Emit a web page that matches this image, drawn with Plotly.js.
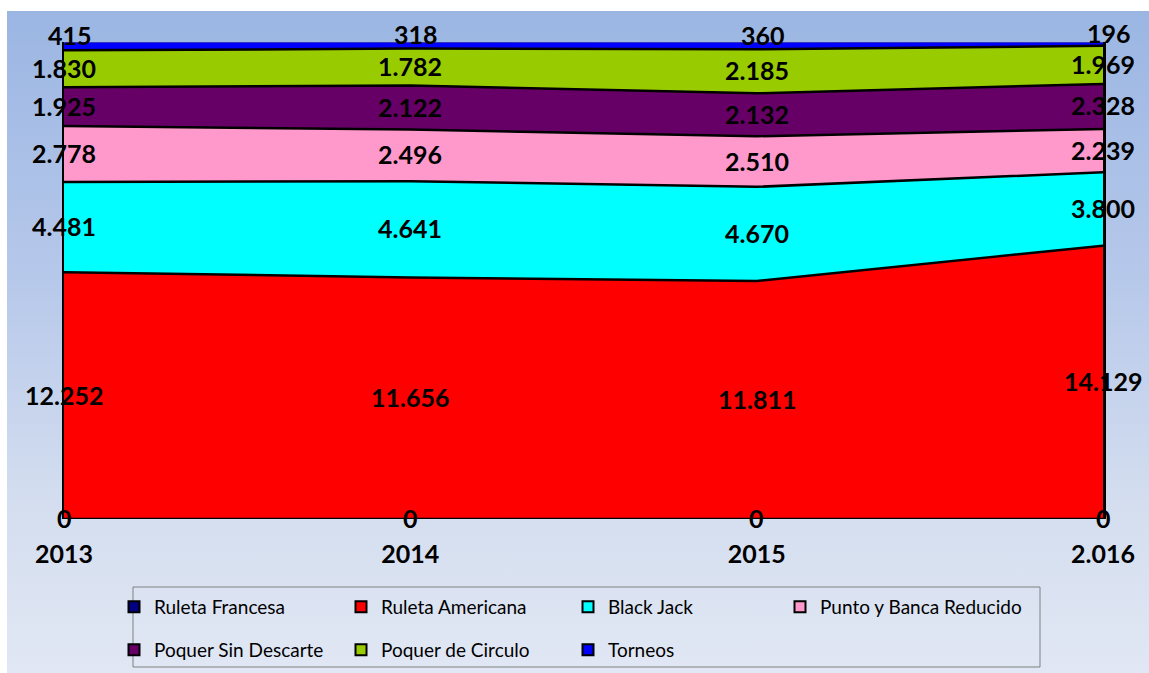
<!DOCTYPE html>
<html>
<head>
<meta charset="utf-8">
<script src="https://cdn.plot.ly/plotly-3.0.1.min.js"></script>
<style>
  html, body { margin:0; padding:0; background:#ffffff; }
  #wrap { position:relative; width:1149px; height:673px; overflow:hidden; }
  #bg { position:absolute; left:7px; top:11px; width:1142px; height:662px;
        background: linear-gradient(to bottom, #9bb6e3 0%, #b6c8ea 40%, #d4deef 75%, #e1e7f4 100%); }
  #chart { position:absolute; left:0; top:0; width:1149px; height:673px; }
</style>
</head>
<body>
<div id="wrap"><div id="bg"></div><div id="chart"></div></div>
<script>
// ---- data ----
const categories = ['2013', '2014', '2015', '2.016'];
const seriesNames = ['Ruleta Francesa', 'Ruleta Americana', 'Black Jack', 'Punto y Banca Reducido',
                     'Poquer Sin Descarte', 'Poquer de Circulo', 'Torneos'];
const ruletaFrancesa   = [0, 0, 0, 0];
const ruletaAmericana  = [12252, 11656, 11811, 14129];
const blackJack        = [4481, 4641, 4670, 3800];
const puntoBanca       = [2778, 2496, 2510, 2239];
const poquerSinDesc    = [1925, 2122, 2132, 2328];
const poquerCirculo    = [1830, 1782, 2185, 1969];
const torneos          = [415, 318, 360, 196];

const seriesValues = [ruletaFrancesa, ruletaAmericana, blackJack, puntoBanca, poquerSinDesc, poquerCirculo, torneos];
const fillColors = ['#000080', '#ff0000', '#00ffff', '#ff99cc', '#660066', '#99cc00', '#0000ff'];
const lineColors = ['#000000', '#000000', '#000000', '#000000', '#000000', '#000000', '#6a6a8a'];
const lineWidths = [2.5, 2.5, 2.5, 2.5, 2.5, 2.5, 1];
const legendGroupOf = ['legend', 'legend', 'legend', 'legend3', 'legend2', 'legend2', 'legend2'];

function fmt(v) {
  return String(v).replace(/\B(?=(\d{3})+(?!\d))/g, '.');
}

const traces = [];
seriesValues.forEach((vals, i) => {
  traces.push({
    type: 'scatter', mode: 'lines', x: categories, y: vals, name: seriesNames[i],
    stackgroup: 'one', groupnorm: 'percent',
    fillcolor: fillColors[i], line: {color: lineColors[i], width: lineWidths[i]},
    showlegend: false, hoverinfo: 'skip'
  });
});
// legend entries
seriesValues.forEach((vals, i) => {
  traces.push({
    type: 'scatter', mode: 'markers', x: [null], y: [null], name: seriesNames[i],
    marker: {symbol: 'square', size: 11, color: fillColors[i], line: {color: '#000', width: 2}},
    showlegend: true, legend: legendGroupOf[i], hoverinfo: 'skip'
  });
});

// labels at middle of each band (percent coordinates)
const annotations = [];
const totals = categories.map((c, j) => seriesValues.reduce((s, arr) => s + arr[j], 0));
categories.forEach((c, j) => {
  let cum = 0;
  seriesValues.forEach((vals, i) => {
    const mid = (cum + vals[j] / 2) / totals[j] * 100;
    cum += vals[j];
    annotations.push({
      x: j, y: mid, xref: 'x', yref: 'y', text: fmt(vals[j]), showarrow: false,
      xshift: (i === 6 ? 6 : 0), yshift: (i === 6 ? 11 : 1),
      font: {family: 'Lato, sans-serif', size: 25, color: '#000', weight: 'bold'}
    });
  });
});

const W = 1039, H = 477, L = 64, T = 42;
function px2x(p) { return (p - L) / W; }
function px2y(p) { return (T + H - p) / H; }

const legendFont = {family: 'Lato, sans-serif', size: 19, color: '#000'};
const legendCommon = {orientation: 'h', xanchor: 'left', yanchor: 'middle', traceorder: 'normal',
           entrywidth: 182, entrywidthmode: 'pixels', bgcolor: 'rgba(0,0,0,0)', borderwidth: 0,
           font: legendFont, itemclick: false};
const layout = {
  width: 1149, height: 673,
  margin: {l: 64, r: 46, t: 42, b: 154, autoexpand: false},
  paper_bgcolor: 'rgba(0,0,0,0)', plot_bgcolor: 'rgba(0,0,0,0)',
  showlegend: true,
  xaxis: {type: 'category', range: [0, 3], showgrid: false, zeroline: false, showline: false,
          ticks: '', ticklabelstandoff: 18, automargin: false,
          tickfont: {family: 'Lato, sans-serif', size: 25, color: '#000', weight: 'bold'}},
  yaxis: {range: [0, 100], showgrid: false, zeroline: false, showticklabels: false, automargin: false,
          showline: true, mirror: true, linecolor: '#000', linewidth: 2.5, ticks: ''},
  legend: Object.assign({x: px2x(114), y: px2y(607)}, legendCommon),
  legend2: Object.assign({x: px2x(114), y: px2y(650)}, legendCommon),
  legend3: Object.assign({x: px2x(780), y: px2y(607)}, legendCommon, {entrywidth: 260}),
  shapes: [{type: 'rect', xref: 'paper', yref: 'paper', x0: px2x(133), x1: px2x(1040),
            y0: px2y(667), y1: px2y(587), line: {color: '#808080', width: 1}, fillcolor: 'rgba(0,0,0,0)'}],
  annotations: annotations
};

Plotly.newPlot('chart', traces, layout, {displayModeBar: false, staticPlot: true});
</script>
</body>
</html>
